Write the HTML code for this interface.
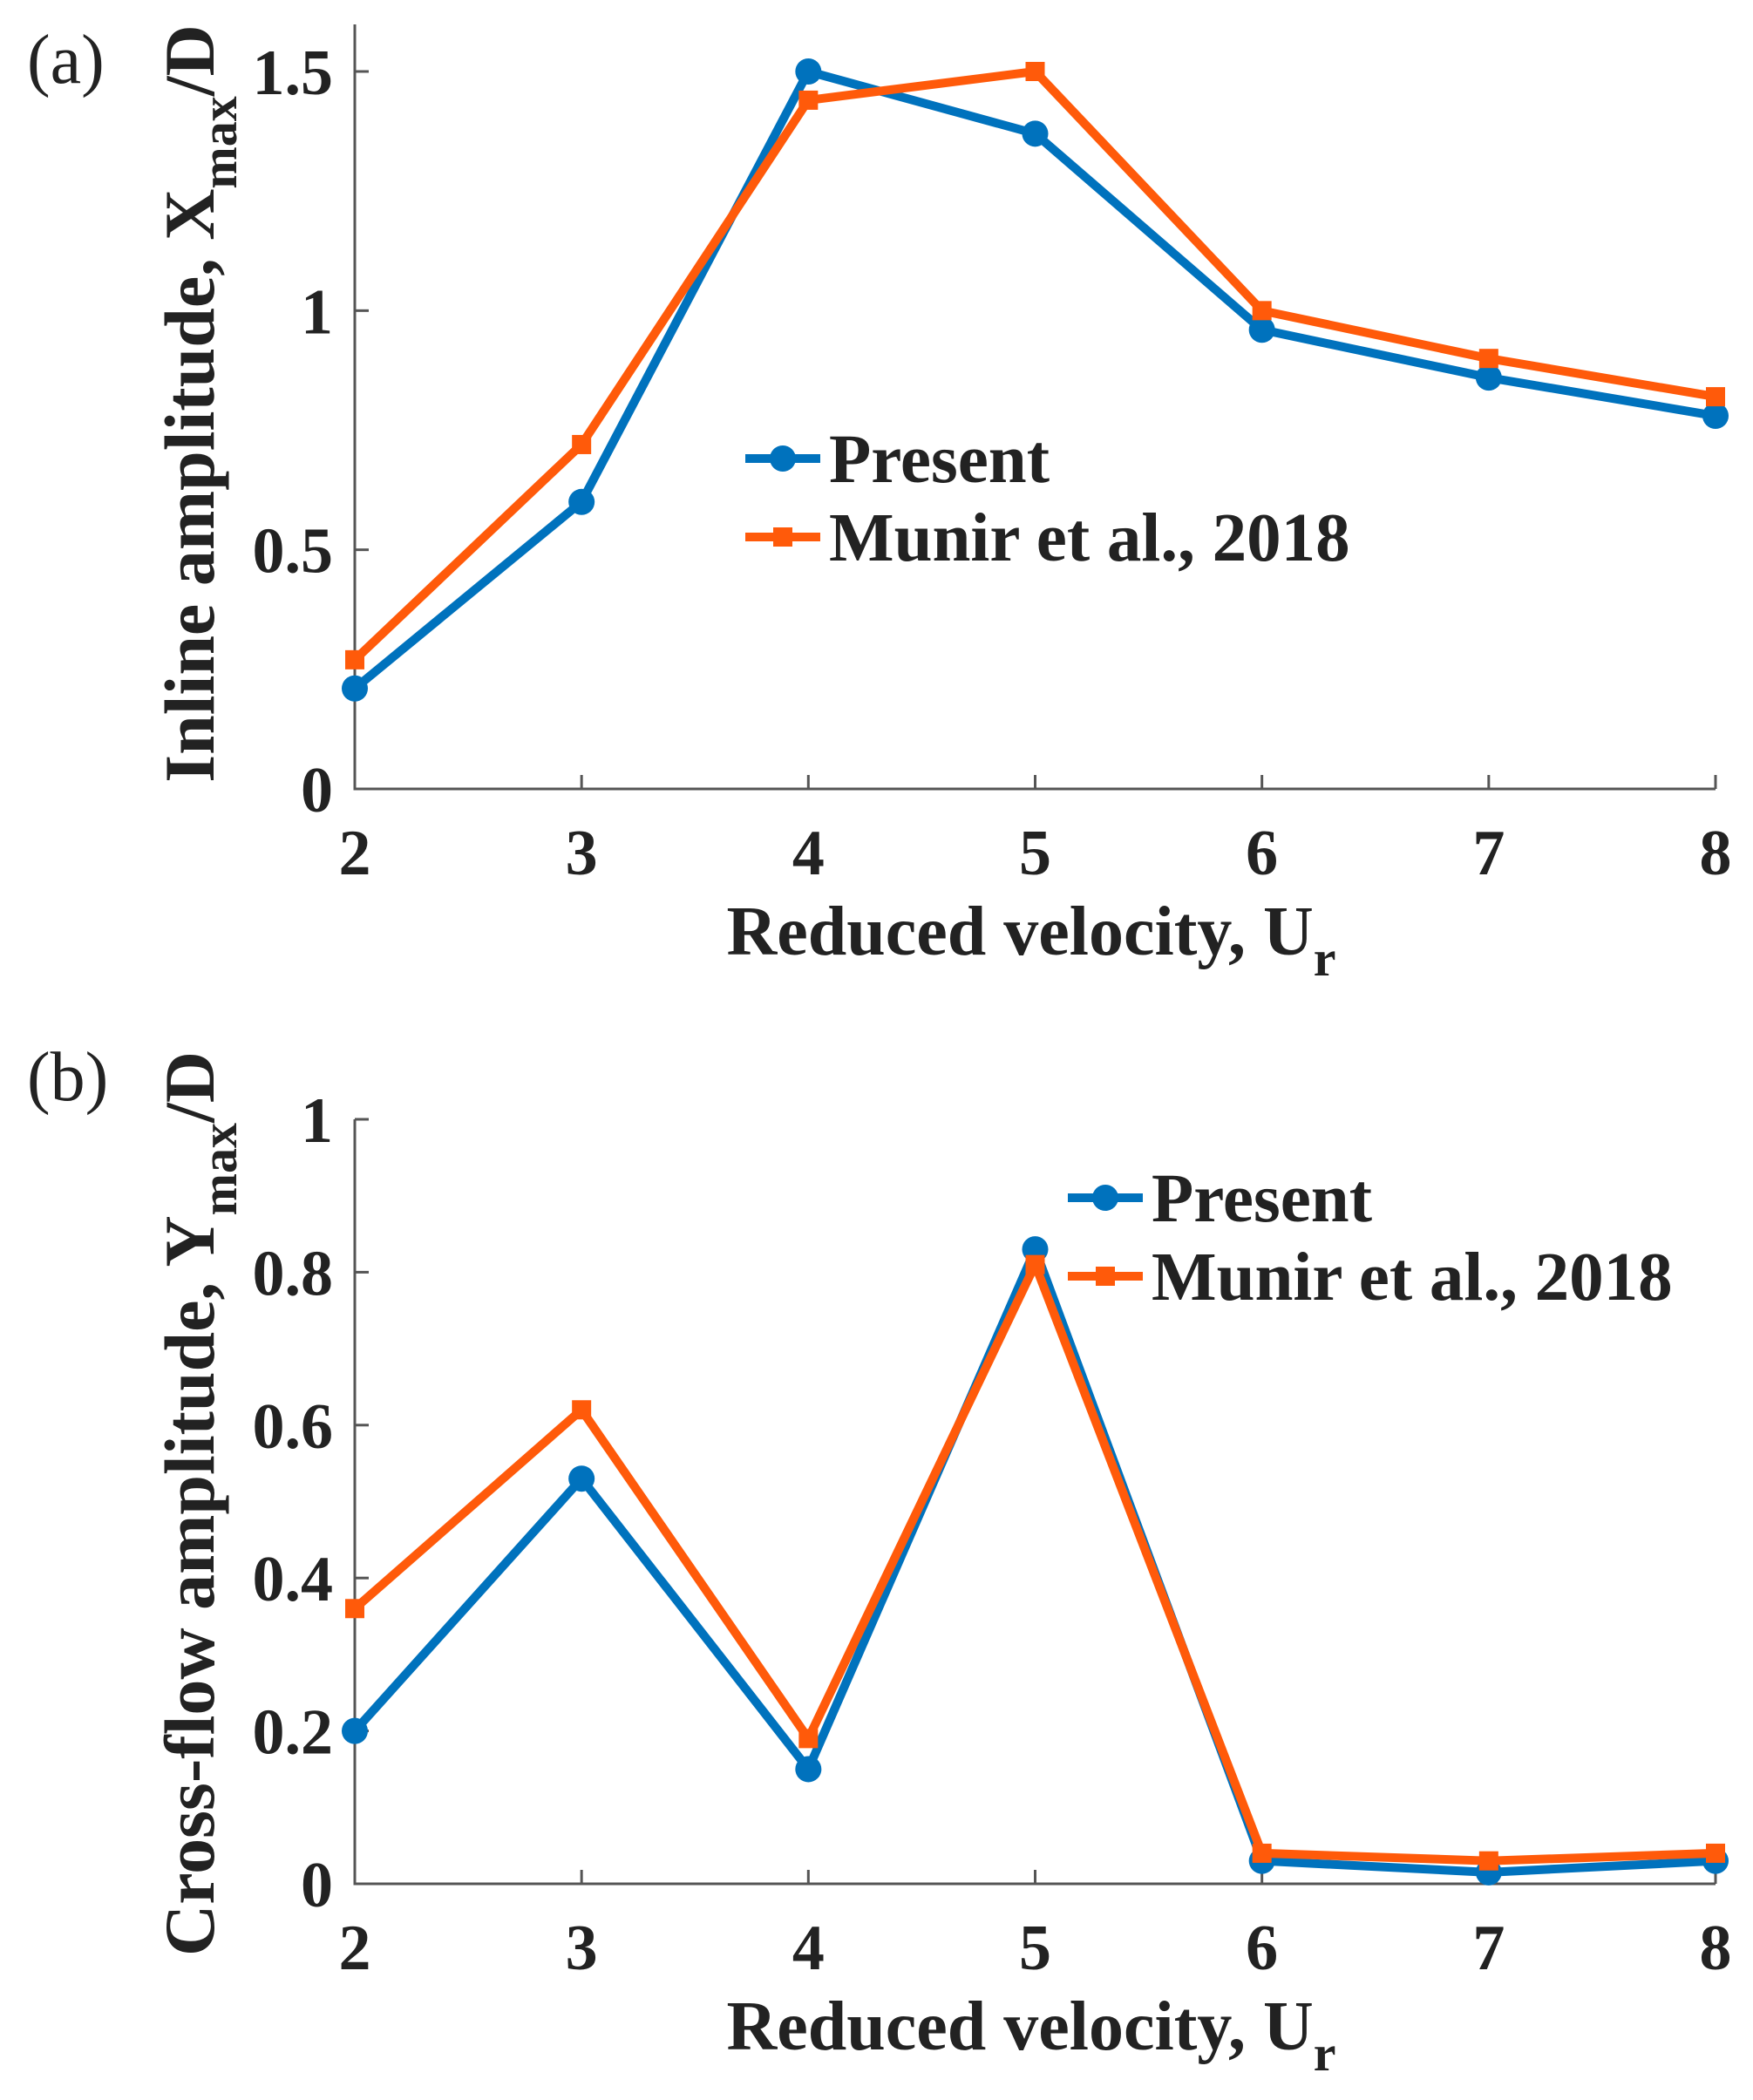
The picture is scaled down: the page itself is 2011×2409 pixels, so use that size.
<!DOCTYPE html>
<html><head><meta charset="utf-8"><style>
html,body{margin:0;padding:0;background:#fff}
svg{display:block}
text{font-family:"Liberation Serif",serif;font-weight:bold;fill:#222}
</style></head><body>
<svg id="fig" width="2011" height="2409" viewBox="0 0 2011 2409" xmlns="http://www.w3.org/2000/svg"></svg>
<script>
const categories = [2,3,4,5,6,7,8];
const presentA = [0.21,0.60,1.50,1.37,0.96,0.86,0.78];
const munirA = [0.27,0.72,1.44,1.50,1.00,0.90,0.82];
const presentB = [0.20,0.53,0.15,0.83,0.03,0.015,0.03];
const munirB = [0.36,0.62,0.19,0.81,0.04,0.03,0.04];
const yTicksA = [0,0.5,1,1.5];
const yTickLabelsA = ["0","0.5","1","1.5"];
const yTicksB = [0,0.2,0.4,0.6,0.8,1];
const yTickLabelsB = ["0","0.2","0.4","0.6","0.8","1"];
const seriesNames = ["Present","Munir et al., 2018"];

const NS="http://www.w3.org/2000/svg";
const svg=document.getElementById('fig');
const BLUE="#0072BD", ORANGE="#FF5A0A";
function el(tag,attrs,parent){const e=document.createElementNS(NS,tag);for(const k in attrs)e.setAttribute(k,attrs[k]);(parent||svg).appendChild(e);return e;}

function panel(cfg){
  const g=el('g',{});
  
  
  const x=v=>407+(v-2)*(1968-407)/6;
  const y=v=>cfg.y0+(v-cfg.ymin)*(cfg.y1px-cfg.y0)/(cfg.yref-cfg.ymin);
  const ax=el('path',{d:`M407 ${cfg.top} V${cfg.y0} H1968`,stroke:'#555',"stroke-width":3,fill:'none'},g);
  
  
  categories.forEach(c=>{
    const t=el('line',{x1:x(c),x2:x(c),y1:cfg.y0,y2:cfg.y0-16,stroke:'#555',"stroke-width":3},g);
    
    
    const l=el('text',{x:x(c),y:cfg.y0+98,"text-anchor":"middle","font-size":74},g);
    l.textContent=c;
    
    
  });
  cfg.yTicks.forEach((v,i)=>{
    const t=el('line',{x1:407,x2:423,y1:y(v),y2:y(v),stroke:'#555',"stroke-width":3},g);
    
    
    const l=el('text',{x:382,y:y(v)+26,"text-anchor":"end","font-size":74},g);
    l.textContent=cfg.yLabels[i];
    
    
  });
  const xl=el('text',{x:1183,y:cfg.y0+190,"text-anchor":"middle","font-size":80},g);
  xl.innerHTML='Reduced velocity, U<tspan dy="24" font-size="58">r</tspan>';
  
  
  const yl=el('text',{x:0,y:0,"text-anchor":"middle","font-size":82,transform:`translate(245,${cfg.ylabY}) rotate(-90)`},g);
  yl.innerHTML=cfg.ylab+', '+cfg.sym+'<tspan dy="26" font-size="58">max</tspan><tspan dy="-26">/D</tspan>';
  
  
  const pl=el('text',{x:31,y:cfg.labY,"font-size":80},g);
  pl.style.fontWeight='normal';
  pl.textContent=cfg.label;
  
  
  [[cfg.s1,BLUE,'circle'],[cfg.s2,ORANGE,'square']].forEach(([data,col,mk],si)=>{
    const pts=data.map((v,i)=>x(categories[i])+','+y(v)).join(' ');
    const pl2=el('polyline',{points:pts,stroke:col,"stroke-width":10,fill:'none',"stroke-linejoin":"round"},g);
    
    
    data.forEach((v,i)=>{
      let m;
      if(mk==='circle') m=el('circle',{cx:x(categories[i]),cy:y(v),r:15,fill:col},g);
      else m=el('rect',{x:x(categories[i])-11,y:y(v)-11,width:22,height:22,fill:col},g);
      
      
    });
  });
  const lg=el('g',{},g);
  
  
  [[BLUE,'circle',cfg.legY],[ORANGE,'square',cfg.legY+90]].forEach(([col,mk,ly],i)=>{
    const ln=el('line',{x1:cfg.legX,x2:cfg.legX+86,y1:ly,y2:ly,stroke:col,"stroke-width":10},lg);
    
    
    if(mk==='circle') el('circle',{cx:cfg.legX+43,cy:ly,r:15,fill:col},lg);
    else el('rect',{x:cfg.legX+32,y:ly-11,width:22,height:22,fill:col},lg);
    const t=el('text',{x:cfg.legX+96,y:ly+27,"font-size":79},lg);
    t.textContent=seriesNames[i];
    
    
  });
}
panel({name:'panel-a-inline',top:28,y0:905,ymin:0,yref:1.5,y1px:82,yTicks:yTicksA,yLabels:yTickLabelsA,
  s1:presentA,s2:munirA,ylab:'Inline amplitude',sym:'X',ylabY:463,label:'(a)',labY:95,legX:855,legY:526});
panel({name:'panel-b-crossflow',top:1284,y0:2161,ymin:0,yref:1,y1px:1284,yTicks:yTicksB,yLabels:yTickLabelsB,
  s1:presentB,s2:munirB,ylab:'Cross-flow amplitude',sym:'Y',ylabY:1725,label:'(b)',labY:1262,legX:1225,legY:1374});
</script>
</body></html>
